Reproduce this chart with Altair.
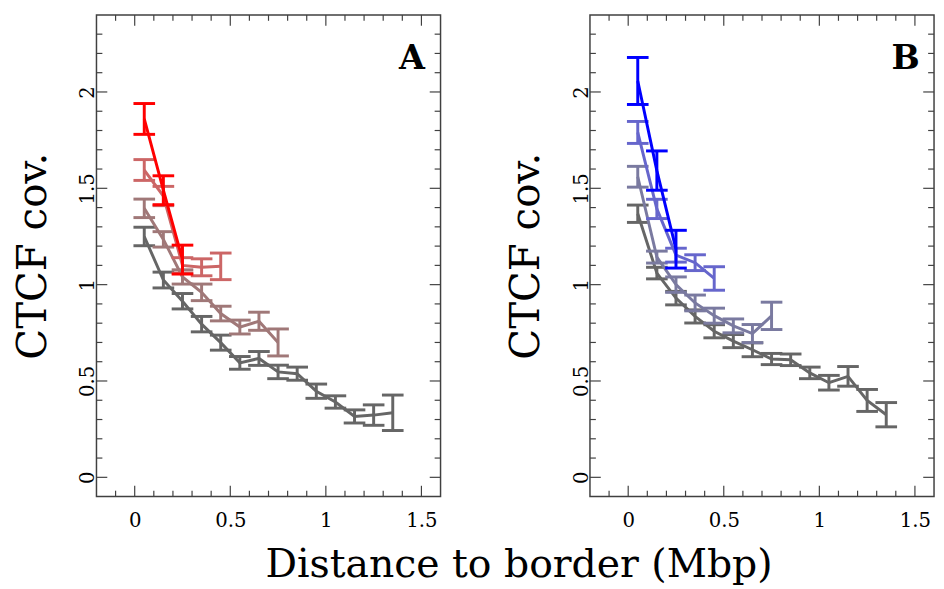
import altair as alt
import pandas as pd

# ---------------- data ----------------
x_bins = [0.05, 0.15, 0.25, 0.35, 0.45, 0.55, 0.65, 0.75, 0.85, 0.95, 1.05, 1.15, 1.25, 1.35]

# Panel A
a_red_y = [1.86, 1.49, 1.13]
a_red_e = [0.08, 0.075, 0.075]
a_lred_y = [1.595, 1.46, 1.10, 1.09, 1.095]
a_lred_e = [0.054, 0.05, 0.04, 0.044, 0.069]
a_rosy_y = [1.396, 1.235, 1.04, 0.96, 0.85, 0.78, 0.81, 0.70]
a_rosy_e = [0.048, 0.04, 0.037, 0.043, 0.038, 0.036, 0.047, 0.07]
a_grey_y = [1.25, 1.024, 0.914, 0.795, 0.699, 0.594, 0.617, 0.547, 0.538, 0.447, 0.391, 0.316, 0.323, 0.335]
a_grey_e = [0.048, 0.041, 0.04, 0.04, 0.039, 0.033, 0.036, 0.035, 0.034, 0.037, 0.032, 0.034, 0.053, 0.092]

# Panel B
b_blue_y = [2.057, 1.592, 1.184]
b_blue_e = [0.122, 0.102, 0.098]
b_mblue_y = [1.79, 1.393, 1.153, 1.114, 1.032]
b_mblue_e = [0.057, 0.05, 0.036, 0.041, 0.061]
b_gblue_y = [1.56, 1.143, 1.00, 0.905, 0.839, 0.786, 0.746, 0.838]
b_gblue_e = [0.054, 0.031, 0.04, 0.041, 0.039, 0.036, 0.047, 0.071]
b_grey_y = [1.368, 1.06, 0.93, 0.835, 0.758, 0.707, 0.662, 0.614, 0.61, 0.542, 0.491, 0.524, 0.399, 0.325]
b_grey_e = [0.045, 0.03, 0.035, 0.034, 0.034, 0.034, 0.036, 0.029, 0.03, 0.03, 0.038, 0.051, 0.057, 0.063]

colors_a = ["#666666", "#a07878", "#cc6666", "#ff0000"]
colors_b = ["#666666", "#7a7aa0", "#6666cc", "#0000ff"]

x_major = [0, 0.5, 1, 1.5]
x_minor = [-0.1, 0.1, 0.2, 0.3, 0.4, 0.6, 0.7, 0.8, 0.9, 1.1, 1.2, 1.3, 1.4]
y_major = [0, 0.5, 1, 1.5, 2]
y_minor = [0.1, 0.2, 0.3, 0.4, 0.6, 0.7, 0.8, 0.9, 1.1, 1.2, 1.3, 1.4,
           1.6, 1.7, 1.8, 1.9, 2.1, 2.2, 2.3]

x_title = "Distance to border (Mbp)"
y_title = "CTCF cov."

W, H = 350, 490
FRAME = "#404040"
MAJ, MIN = 11, 6
TFONT = "DejaVu Serif"

xs = alt.Scale(domain=[-0.2, 1.6], nice=False, zero=False)
ys = alt.Scale(domain=[-0.1, 2.4], nice=False, zero=False)
xaxis = alt.Axis(values=x_major, format="~g", ticks=False, domain=False, grid=False,
                 labelFont="DejaVu Serif", labelFontSize=20, labelColor="black",
                 labelPadding=14, title=None)
yaxis = alt.Axis(values=y_major, format="~g", ticks=False, domain=False, grid=False,
                 labelAngle=270, labelAlign="center", labelBaseline="alphabetic",
                 labelFont="DejaVu Serif", labelFontSize=20, labelColor="black",
                 labelPadding=3, title=y_title, titleFont=TFONT,
                 titleFontSize=41, titleFontWeight="normal", titleColor="black",
                 titlePadding=24)


def X(f):
    return alt.X(f + ":Q", scale=xs, axis=xaxis)


def Y(f):
    return alt.Y(f + ":Q", scale=ys, axis=yaxis)


def tick_layers():
    layers = []
    for vals, ln in [(y_major, MAJ), (y_minor, MIN)]:
        d = pd.DataFrame({"y": vals})
        layers.append(alt.Chart(d).mark_rule(color=FRAME, strokeWidth=1.2).encode(
            y=Y("y"), x=alt.value(0), x2=alt.value(ln)))
        layers.append(alt.Chart(d).mark_rule(color=FRAME, strokeWidth=1.2).encode(
            y=Y("y"), x=alt.value(W - ln), x2=alt.value(W)))
    for vals, ln in [(x_major, MAJ), (x_minor, MIN)]:
        d = pd.DataFrame({"x": vals})
        layers.append(alt.Chart(d).mark_rule(color=FRAME, strokeWidth=1.2).encode(
            x=X("x"), y=alt.value(H - ln), y2=alt.value(H)))
        layers.append(alt.Chart(d).mark_rule(color=FRAME, strokeWidth=1.2).encode(
            x=X("x"), y=alt.value(0), y2=alt.value(ln)))
    return layers


def series_layers(ys_, es_, color):
    n = len(ys_)
    d = pd.DataFrame({"x": x_bins[:n], "y": ys_,
                      "lo": [v - e for v, e in zip(ys_, es_)],
                      "hi": [v + e for v, e in zip(ys_, es_)]})
    base = alt.Chart(d)
    return [
        base.mark_line(color=color, strokeWidth=3).encode(x=X("x"), y=Y("y")),
        base.mark_rule(color=color, strokeWidth=3).encode(x=X("x"), y=Y("lo"), y2=alt.Y2("hi:Q")),
        base.mark_tick(color=color, orient="horizontal", size=22, thickness=3, opacity=1).encode(
            x=X("x"), y=Y("lo")),
        base.mark_tick(color=color, orient="horizontal", size=22, thickness=3, opacity=1).encode(
            x=X("x"), y=Y("hi")),
    ]


def panel(series, colors, letter):
    layers = tick_layers()
    for (yv, ev), c in zip(series, colors):
        layers += series_layers(yv, ev, c)
    lab = alt.Chart(alt.Data(values=[{"t": letter}])).mark_text(
        font="DejaVu Serif", fontWeight="bold", fontSize=34, color="black",
        align="center", baseline="middle").encode(
        text="t:N", x=alt.value(321), y=alt.value(45))
    layers.append(lab)
    return alt.layer(*layers).properties(width=W, height=H)


pa = panel([(a_grey_y, a_grey_e), (a_rosy_y, a_rosy_e), (a_lred_y, a_lred_e), (a_red_y, a_red_e)],
           colors_a, "A")
pb = panel([(b_grey_y, b_grey_e), (b_gblue_y, b_gblue_e), (b_mblue_y, b_mblue_e), (b_blue_y, b_blue_e)],
           colors_b, "B")

chart = alt.hconcat(pa, pb, spacing=64).properties(
    title=alt.TitleParams(x_title, orient="bottom", anchor="middle", font=TFONT,
                          fontSize=40, fontWeight="normal", color="black", dx=46, offset=15),
    padding={"left": 4, "top": 0, "right": 0, "bottom": 0},
).configure_view(stroke=FRAME, strokeWidth=1.5)

chart.save("out.html", embed_options={"renderer": "svg", "actions": False})
